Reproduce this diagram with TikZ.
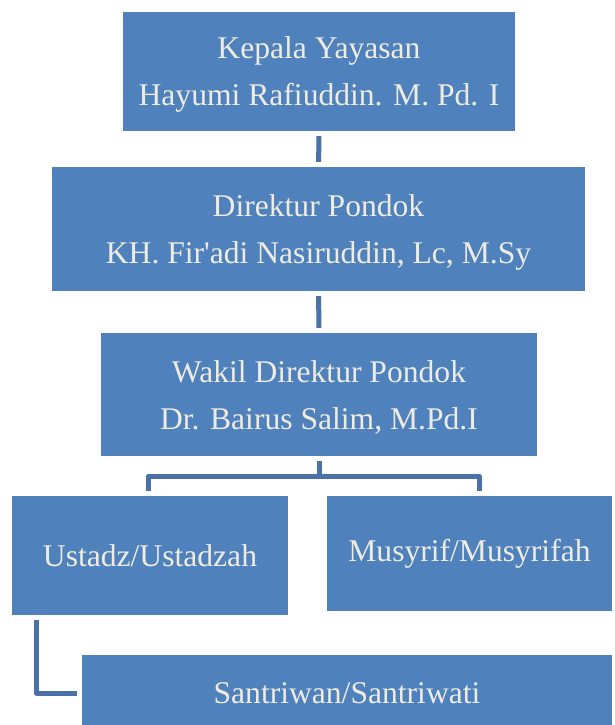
\documentclass[tikz,border=0pt]{standalone}
\usepackage{fontspec}
\setmainfont{Liberation Serif}
\usepackage{tikz}
\usepackage{xcolor}
\usetikzlibrary{shapes, positioning}

\definecolor{boxblue}{HTML}{4F81BD}
\definecolor{linkblue}{HTML}{4A72A8}
\definecolor{boxtext}{HTML}{EEECE1}

\newcommand{\headstrut}{\rule{0pt}{28pt}}

\tikzset{
    unit/.style={rectangle, fill=boxblue, text=boxtext, align=center, inner sep=0pt,
        font=\fontsize{31.6}{47}\selectfont},
    link/.style={draw=linkblue, line width=5pt, line join=round, shorten <=5pt, shorten >=5pt}
}

\begin{document}
\begin{tikzpicture}[x=1pt, y=-1pt]
        \useasboundingbox (0, 0) rectangle (614, 725);

        \node[unit, minimum width=392, minimum height=119] (kepala) at (319, 71.5)
            {\headstrut Kepala Yayasan\\Hayumi Rafiuddin. M. Pd. I};
        \node[unit, minimum width=533, minimum height=124] (direktur) at (318.5, 229)
            {\headstrut Direktur Pondok\\KH. Fir\textquotesingle adi Nasiruddin, Lc, M.Sy};
        \node[unit, minimum width=436, minimum height=123] (wakil) at (319, 394.5)
            {\headstrut Wakil Direktur Pondok\\Dr. Bairus Salim, M.Pd.I};
        \node[unit, minimum width=276, minimum height=119] (ustadz) at (150, 555.5)
            {Ustadz/Ustadzah};
        \node[unit, minimum width=285, minimum height=115] (musyrif) at (469.5, 553.5)
            {Musyrif/Musyrifah};
        \node[unit, minimum width=530, minimum height=76] (santri) at (347, 693)
            {Santriwan/Santriwati};

        \draw[link] (kepala) -- (direktur);
        \draw[link] (direktur) -- (wakil);
        \draw[link] (wakil.south) -- ++(0, 20) -| ([xshift=-2pt]ustadz.north);
        \draw[link] (wakil.south) -- ++(0, 20) -| ([xshift=9.5pt]musyrif.north);
        \draw[link] ([xshift=24.5pt]ustadz.south west) |- (santri.west);
    \end{tikzpicture}
\end{document}
